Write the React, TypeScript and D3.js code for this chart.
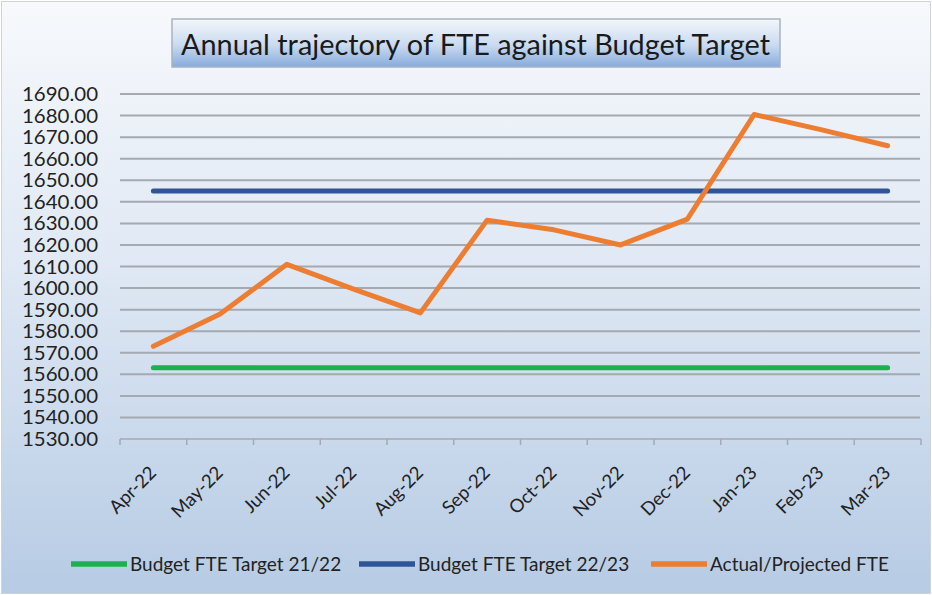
import React, { useEffect, useRef } from "react";
import * as d3 from "d3";

const months = ["Apr-22", "May-22", "Jun-22", "Jul-22", "Aug-22", "Sep-22", "Oct-22", "Nov-22", "Dec-22", "Jan-23", "Feb-23", "Mar-23"];
const target2122 = [1563, 1563, 1563, 1563, 1563, 1563, 1563, 1563, 1563, 1563, 1563, 1563];
const target2223 = [1645, 1645, 1645, 1645, 1645, 1645, 1645, 1645, 1645, 1645, 1645, 1645];
const actualFte = [1573, 1588, 1611, 1599.5, 1588.5, 1631.5, 1627, 1620, 1632, 1680.5, 1673.5, 1666];
const yTicks = d3.range(1530, 1691, 10);

const seriesNames = ["Budget FTE Target 21/22", "Budget FTE Target 22/23", "Actual/Projected FTE"];
const seriesColors = ["#1db04f", "#2f5597", "#ed7d31"];

const W = 932;
const H = 595;
const FONT = "Lato, 'Open Sans', sans-serif";

const App = () => {
  const ref = useRef<SVGSVGElement>(null);

  useEffect(() => {
    document.body.style.margin = "0";
    const svg = d3.select(ref.current);
    svg.selectAll("*").remove();

    const defs = svg.append("defs");
    const bg = defs.append("linearGradient").attr("id", "bg").attr("x1", 0).attr("y1", 0).attr("x2", 0).attr("y2", 1);
    bg.append("stop").attr("offset", "0%").attr("stop-color", "#f7f9fc");
    bg.append("stop").attr("offset", "45%").attr("stop-color", "#dfe8f4");
    bg.append("stop").attr("offset", "100%").attr("stop-color", "#b6cbe4");
    const tg = defs.append("linearGradient").attr("id", "tg").attr("x1", 0).attr("y1", 0).attr("x2", 0).attr("y2", 1);
    tg.append("stop").attr("offset", "0%").attr("stop-color", "#f4f7fb");
    tg.append("stop").attr("offset", "55%").attr("stop-color", "#c9daf0");
    tg.append("stop").attr("offset", "100%").attr("stop-color", "#87abdc");

    svg.append("rect").attr("x", 1.5).attr("y", 1.5).attr("width", W - 3).attr("height", H - 3)
      .attr("fill", "url(#bg)").attr("stroke", "#d0d4da").attr("stroke-width", 1);

    // title box
    svg.append("rect").attr("x", 172).attr("y", 19).attr("width", 608).attr("height", 48)
      .attr("fill", "url(#tg)").attr("stroke", "#a9b3c0").attr("stroke-width", 1.5);
    svg.append("text").attr("x", 181).attr("y", 55)
      .attr("textLength", 589).attr("lengthAdjust", "spacingAndGlyphs")
      .attr("font-family", FONT).attr("font-size", 29).attr("fill", "#1a1a1a")
      .text("Annual trajectory of FTE against Budget Target");

    const x = d3.scaleBand().domain(months).range([120, 921]);
    const y = d3.scaleLinear().domain([1530, 1690]).range([439, 94]);

    // gridlines
    svg.append("g").selectAll("line").data(yTicks.slice(1)).join("line")
      .attr("x1", 120).attr("x2", 920)
      .attr("y1", (d) => y(d)).attr("y2", (d) => y(d))
      .attr("stroke", "#a5a9b1").attr("stroke-width", 2);

    // y labels
    svg.append("g").selectAll("text").data(yTicks).join("text")
      .attr("x", 22).attr("y", (d) => y(d) + 7)
      .attr("textLength", 76).attr("lengthAdjust", "spacingAndGlyphs")
      .attr("font-family", FONT).attr("font-size", 18.5).attr("fill", "#222")
      .text((d) => d.toFixed(2));

    // x axis
    svg.append("line").attr("x1", 120).attr("x2", 921).attr("y1", y(1530)).attr("y2", y(1530))
      .attr("stroke", "#a5a9b1").attr("stroke-width", 1.5);
    const edges = months.map((m) => x(m) as number).concat([921]);
    svg.append("g").selectAll("line").data(edges).join("line")
      .attr("x1", (d) => d).attr("x2", (d) => d)
      .attr("y1", y(1530)).attr("y2", y(1530) + 6)
      .attr("stroke", "#a5a9b1").attr("stroke-width", 1.5);

    svg.append("g").selectAll("text").data(months).join("text")
      .attr("transform", (d) => `translate(${(x(d) as number) + x.bandwidth() / 2 + 4},${y(1530) + 35}) rotate(-45)`)
      .attr("text-anchor", "end").attr("font-family", FONT).attr("font-size", 18.5).attr("fill", "#222")
      .text((d) => d);

    const cx = (i: number) => (x(months[i]) as number) + x.bandwidth() / 2;
    const line = d3.line<number>().x((_, i) => cx(i)).y((d) => y(d));
    [target2122, target2223, actualFte].forEach((s, k) => {
      svg.append("path").attr("d", line(s)).attr("fill", "none")
        .attr("stroke", seriesColors[k]).attr("stroke-width", 5)
        .attr("stroke-linejoin", "round").attr("stroke-linecap", "round");
    });

    // legend
    const legendX = [71, 359, 651];
    seriesNames.forEach((n, k) => {
      const g = svg.append("g").attr("transform", `translate(${legendX[k]},564)`);
      g.append("line").attr("x1", 0).attr("x2", 56).attr("stroke", seriesColors[k]).attr("stroke-width", 5.5);
      g.append("text").attr("x", 59).attr("y", 7).attr("font-family", FONT).attr("font-size", 19).attr("fill", "#222").text(n);
    });
  }, []);

  return <svg ref={ref} width={W} height={H} style={{ display: "block" }} />;
};

export default App;
